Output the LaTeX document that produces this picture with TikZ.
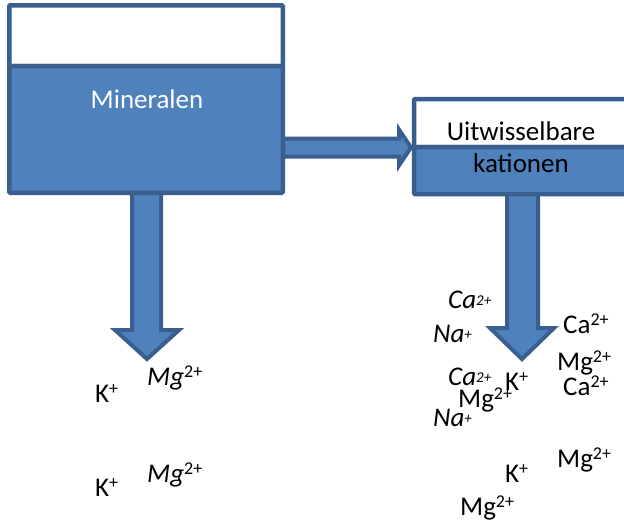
\documentclass[tikz,border=0pt]{standalone}
\usepackage{fontspec}
\setmainfont{Carlito}
\definecolor{boxblue}{HTML}{4F81BD}
\definecolor{edgeblue}{HTML}{3A5F8F}
\newcommand\ionsup[1]{\raisebox{7.5pt}{\fontsize{18}{18}\selectfont\upshape #1}}
\newcommand\tinysup[1]{\raisebox{3pt}{\fontsize{15}{15}\selectfont #1}}
\begin{document}
\begin{tikzpicture}[x=1pt,y=-1pt,
  boxline/.style={draw=edgeblue,line width=4.5pt,rounded corners=1pt},
  whitepart/.style={boxline,fill=white},
  bluepart/.style={boxline,fill=boxblue},
  blockarrow/.style={draw=edgeblue,fill=boxblue,line width=4pt,line join=miter},
  lbl/.style={inner sep=0pt,font=\fontsize{27}{32}\selectfont},
  ion/.style={lbl,anchor=base west}]
\clip (0,0) rectangle (624,531);
\fill[white] (0,0) rectangle (624,531);
% arrows (behind boxes)
\draw[blockarrow] (283,138.5) -- (399,138.5) -- (399,129.5) -- (411,147.5) -- (399,165.5) -- (399,156.5) -- (283,156.5) -- cycle;
\draw[blockarrow] (132,190) -- (132,330) -- (115,330) -- (147,359) -- (179,330) -- (161,330) -- (161,190) -- cycle;
\draw[blockarrow] (507,190) -- (507,328) -- (490,328) -- (522,359) -- (554,328) -- (538,328) -- (538,190) -- cycle;
% left box
\draw[whitepart] (9.25,5.25) rectangle (282.75,66);
\draw[bluepart] (9.25,66) rectangle (282.75,192.75);
% right box
\draw[whitepart] (414,99) rectangle (660,147);
\draw[bluepart] (414,147) rectangle (660,194);
% box texts
\node[lbl,anchor=base,text=white] (min) at (147,108) {Mineralen};
\node[lbl,anchor=base] (uit) at (521,140) {Uitwisselbare};
\node[lbl,anchor=base] (kat) at (521,172) {kationen};
% left ions
\node[ion] (k1) at (95,402) {K\ionsup{+}};
\node[ion] (mg1) at (147,385) {{\itshape Mg}\ionsup{2+}};
\node[ion] (mg2) at (147,482) {{\itshape Mg}\ionsup{2+}};
\node[ion] (k2) at (95,496) {K\ionsup{+}};
% right ions
\node[ion] (ca1) at (448,308) {\itshape Ca\tinysup{2+}};
\node[ion] (na1) at (433,342) {\itshape Na\tinysup{+}};
\node[ion] (ca2) at (563,333) {Ca\ionsup{2+}};
\node[ion] (mg3) at (557,370) {Mg\ionsup{2+}};
\node[ion] (ca3) at (563,395) {Ca\ionsup{2+}};
\node[ion] (ca4) at (448,385) {\itshape Ca\tinysup{2+}};
\node[ion] (k3) at (505,390) {K\ionsup{+}};
\node[ion] (mg4) at (458,407) {Mg\ionsup{2+}};
\node[ion] (na2) at (433,426) {\itshape Na\tinysup{+}};
\node[ion] (mg5) at (557,467) {Mg\ionsup{2+}};
\node[ion] (k4) at (505,482) {K\ionsup{+}};
\node[ion] (mg6) at (460,515) {Mg\ionsup{2+}};
\end{tikzpicture}
\end{document}
